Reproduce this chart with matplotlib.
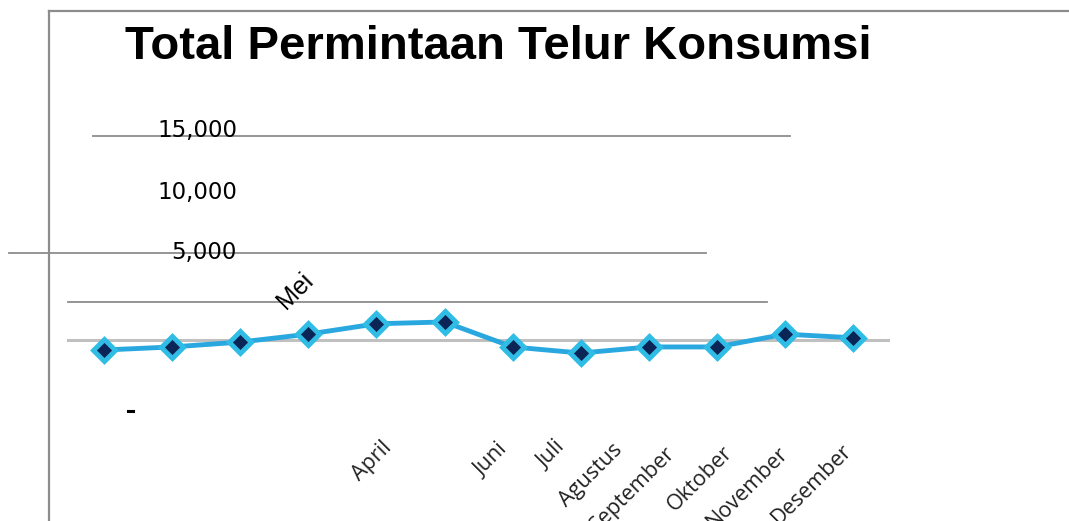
import matplotlib
matplotlib.use("Agg")
import matplotlib.pyplot as plt

# ── data ────────────────────────────────────────────────────
months = ["Januari", "Februari", "Maret", "April", "Mei", "Juni",
          "Juli", "Agustus", "September", "Oktober", "November", "Desember"]
demand = [4100, 4350, 4750, 5400, 6250, 6400,
          4350, 3850, 4350, 4350, 5400, 5100]

ytick_labels = ["15,000", "10,000", "5,000"]
# month labels that survived in the source, drawn where they ended up
shown_months = ["April", "Juni", "Juli", "Agustus",
                "September", "Oktober", "November", "Desember"]

W, H = 1069, 521
fig = plt.figure(figsize=(W / 100, H / 100), dpi=100)

# pixel overlay for frame, stray rules and text
bg = fig.add_axes([0, 0, 1, 1])
bg.set_xlim(0, W)
bg.set_ylim(H, 0)
bg.axis("off")

frame = "#8c8c8c"
bg.plot([49, W], [11, 11], color=frame, lw=1.6)
bg.plot([49, 49], [11, H], color=frame, lw=1.6)
bg.plot([93, 790], [136, 136], color=frame, lw=1.3)
bg.plot([9, 706], [253, 253], color=frame, lw=1.3)
bg.plot([68, 767], [302, 302], color=frame, lw=1.3)
bg.plot([68, 888], [340, 340], color="#c0c0c0", lw=2.2)
bg.plot([128, 133], [411, 411], color="black", lw=2.2)

bg.text(498, 47, "Total Permintaan Telur Konsumsi", ha="center", va="center",
        fontsize=34, fontweight="bold",
        family=["Liberation Sans Narrow", "Liberation Sans", "DejaVu Sans"])

for lab, y in zip(ytick_labels, [131, 193, 253]):
    bg.text(237, y, lab, ha="right", va="center", fontsize=16.5,
            family=["DejaVu Sans"])

bg.text(309, 277, "Mei", ha="right", va="center", rotation=45,
        rotation_mode="anchor", fontsize=18,
        family=["Liberation Sans", "DejaVu Sans"])

ends = [(389, 445), (505, 447), (562, 444), (619, 447),
        (672, 450), (729, 450), (785, 450), (849, 447)]
for lab, (x, y) in zip(shown_months, ends):
    bg.text(x, y, lab, ha="right", va="center", rotation=45,
            rotation_mode="anchor", fontsize=15.5, color="#222222",
            family=["Open Sans", "DejaVu Sans"])

# data axes, scaled so the series lands where it sits in the source
ax = fig.add_axes([0, 0, 1, 1])
ax.patch.set_alpha(0)
ax.axis("off")
ax.set_xlim(-104 / 68.1, (W - 104) / 68.1)
ax.set_ylim((400 - H) * 82, 400 * 82)
ax.plot(range(len(months)), demand, color="#29a8e0", lw=3.5,
        marker="D", markersize=11, markerfacecolor="#0b2556",
        markeredgecolor="#2fbde6", markeredgewidth=3.5)

fig.savefig("out.png", dpi=100)
